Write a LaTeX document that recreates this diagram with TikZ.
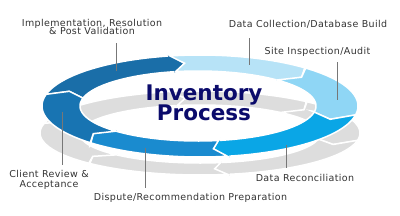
\documentclass[tikz,border=0pt]{standalone}
\usepackage{fontspec}
\newfontfamily\labfont[LetterSpace=4]{DejaVu Sans}
\newfontfamily\titfont{DejaVu Sans}
\definecolor{cA}{HTML}{1A6EA8}
\definecolor{cB}{HTML}{B7E3F7}
\definecolor{cC}{HTML}{8FD6F5}
\definecolor{cD}{HTML}{0AA6E6}
\definecolor{cE}{HTML}{1A8BCF}
\definecolor{cF}{HTML}{1874B2}
\definecolor{greyring}{HTML}{DDDDDD}
\definecolor{navy}{HTML}{0B0B6B}
\definecolor{labtext}{HTML}{333333}
\definecolor{leadcol}{HTML}{777777}
% ring parameters
\newcommand\setring[8]{\def\ocx{#1}\def\ocy{#2}\def\orx{#3}\def\ory{#4}\def\icx{#5}\def\icy{#6}\def\irx{#7}\def\iry{#8}}
% #1 colour, #2 start a, #3 notch n, #4 end b, #5 head h, #6 barb e
\newcommand\ringseg[6]{%
  \pgfmathsetmacro\bb{#4-#5}%
  \pgfmathsetmacro\an{#2+#3}%
  \fill[fill=#1, draw=white, line width=1.5pt, line join=miter]
    plot[domain=#2:\bb, samples=40] ({\ocx+\orx*cos(\x)},{\ocy+\ory*sin(\x)})
    -- ({\ocx+(\orx+#6)*cos(\bb)},{\ocy+(\ory+#6)*sin(\bb)})
    -- ({(\ocx+\icx)/2+(\orx+\irx)/2*cos(#4)},{(\ocy+\icy)/2+(\ory+\iry)/2*sin(#4)})
    -- ({\icx+(\irx-#6)*cos(\bb)},{\icy+(\iry-#6)*sin(\bb)})
    -- plot[domain=\bb:#2, samples=40] ({\icx+\irx*cos(\x)},{\icy+\iry*sin(\x)})
    -- ({(\ocx+\icx)/2+(\orx+\irx)/2*cos(\an)},{(\ocy+\icy)/2+(\ory+\iry)/2*sin(\an)})
    -- cycle;}
\newcommand\allsegs[6]{%
  \ringseg{#1}{193}{7}{264}{6}{3}%
  \ringseg{#2}{259}{5}{318}{7}{3}%
  \ringseg{#3}{312}{6}{378}{9}{3}%
  \ringseg{#4}{370}{8}{444}{5}{3}%
  \ringseg{#5}{440}{4}{500}{7}{3}%
  \ringseg{#6}{494}{6}{560}{8}{3}}
\tikzset{
  lab/.style={font=\labfont\fontsize{9.5}{11}\selectfont, text=labtext, anchor=base, inner sep=0pt},
  tit/.style={font=\titfont\bfseries\fontsize{21.5}{24}\selectfont, text=navy, anchor=base, inner sep=0pt},
  leader/.style={draw=leadcol, line width=0.8pt}
}
\begin{document}
\begin{tikzpicture}[x=1pt,y=-1pt]
\useasboundingbox (0,0) rectangle (400,215);
% grey shadow ring
\setring{200}{133}{160}{42}{200}{134}{120}{29}
\allsegs{greyring}{greyring}{greyring}{greyring}{greyring}{greyring}
% blue ring
\setring{200}{106}{158}{51}{198}{106}{118}{35}
\allsegs{cA}{cB}{cC}{cD}{cE}{cF}
% title
\node[tit] (t1) at (204,100) {Inventory};
\node[tit] (t2) at (204,120.5) {Process};
% labels
\node[lab] (l1a) at (92,26) {Implementation, Resolution};
\node[lab] (l1b) at (92,34.5) {\& Post Validation};
\node[lab] (l2) at (308,27.7) {Data Collection/Database Build};
\node[lab] (l3) at (317.5,54.3) {Site Inspection/Audit};
\node[lab] (l4) at (305,181) {Data Reconciliation};
\node[lab] (l5) at (190.5,200) {Dispute/Recommendation Preparation};
\node[lab] (l6a) at (49,177.7) {Client Review \&};
\node[lab] (l6b) at (49,187.7) {Acceptance};
% leader lines
\coordinate (p1a) at (116,43); \coordinate (p1b) at (116,71);
\coordinate (p2a) at (249,38); \coordinate (p2b) at (249,65);
\coordinate (p3a) at (337,62); \coordinate (p3b) at (337,100);
\coordinate (p4a) at (286,145); \coordinate (p4b) at (286,168);
\coordinate (p5a) at (145,148); \coordinate (p5b) at (145,188);
\coordinate (p6a) at (62,112); \coordinate (p6b) at (62,165);
\draw[leader] (p1a) -- (p1b);
\draw[leader] (p2a) -- (p2b);
\draw[leader] (p3a) -- (p3b);
\draw[leader] (p4a) -- (p4b);
\draw[leader] (p5a) -- (p5b);
\draw[leader] (p6a) -- (p6b);
\end{tikzpicture}
\end{document}
